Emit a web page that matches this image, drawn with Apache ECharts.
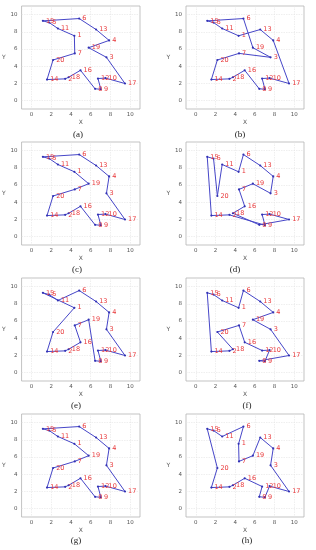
<!DOCTYPE html>
<html>
<head>
<meta charset="utf-8">
<script src="https://cdn.jsdelivr.net/npm/echarts@6/dist/echarts.min.js"></script>
<style>
html,body{margin:0;padding:0;background:#fff;}
#c{width:316px;height:550px;}
</style>
</head>
<body>
<div id="c"></div>
<script>
// City coordinates (id -> x, y)
var cityIds = [1,2,3,4,5,6,7,8,9,10,11,12,13,14,15,16,17,18,19,20];
var cityX   = [4.35,3.42,7.60,7.87,1.80,4.84,4.39,6.45,7.03,7.50,2.68,6.74,6.55,1.58,1.16,4.97,9.48,3.77,5.80,2.19];
var cityY   = [7.53,2.51,5.02,6.99,9.07,9.54,5.48,1.35,1.31,2.60,8.38,2.55,8.26,2.43,9.27,3.51,1.97,2.70,6.14,4.71];

// Tour of each panel (city ids, closed back to the first)
var routeA = [15,6,13,4,19,3,17,10,12,9,8,16,18,2,14,20,7,1,11,5];
var routeB = [15,6,19,3,7,20,14,2,18,16,8,9,12,10,17,4,13,1,11,5];
var routeC = [15,6,13,4,3,17,10,12,9,8,16,18,2,14,20,7,19,1,11,5];
var routeD = [14,2,9,12,10,17,8,18,16,7,19,3,4,13,6,1,11,20,5,15];
var routeE = [6,11,5,15,1,20,14,2,18,16,7,19,8,9,12,10,17,3,4,13];
var routeF = [15,14,2,18,20,7,16,12,10,9,8,17,3,19,4,13,6,1,11,5];
var routeG = [15,6,13,4,3,17,10,12,9,8,16,18,2,14,20,7,19,1,11,5];
var routeH = [15,5,11,6,1,7,19,13,4,3,17,10,9,8,12,16,18,2,14,20];

var captions = ['(a)','(b)','(c)','(d)','(e)','(f)','(g)','(h)'];
var tickValues = [0,2,4,6,8,10];

var routes = [routeA,routeB,routeC,routeD,routeE,routeF,routeG,routeH];

// layout
var colLeft = [17, 186];
var colWidth = [123, 118];
var rowTop = [6, 142, 278, 414];
var plotH = 103;
var capPos = [[78,135],[240,135],[77,270],[235,270],[76,406],[247,406],[76,541],[247,541]];
var labelColor = '#e8383a';

var grids = [], xAxes = [], yAxes = [], series = [], graphics = [];
routes.forEach(function(route, i){
  var col = i % 2, row = Math.floor(i/2);
  grids.push({left: colLeft[col], top: rowTop[row], width: colWidth[col], height: plotH,
    show: true, backgroundColor: '#ffffff', borderColor: '#b4b4b4', borderWidth: 0.8});
  xAxes.push({gridIndex: i, type: 'value', min: -1, max: 11,
    name: 'X', nameLocation: 'middle', nameGap: 10,
    nameTextStyle: {fontSize: 6, color: '#555', fontFamily: 'DejaVu Sans'},
    axisLine: {show: false},
    axisTick: {show: false, customValues: tickValues},
    axisLabel: {customValues: tickValues, fontSize: 5.5, color: '#555', margin: 3, fontFamily: 'DejaVu Sans'},
    splitLine: {show: true, lineStyle: {color: '#e4e4e4', width: 0.6, type: [1.5,1]}}
  });
  yAxes.push({gridIndex: i, type: 'value', min: -1, max: 11,
    name: 'Y', nameLocation: 'middle', nameGap: 12, nameRotate: 0,
    nameTextStyle: {fontSize: 6, color: '#555', fontFamily: 'DejaVu Sans'},
    axisLine: {show: false},
    axisTick: {show: false, customValues: tickValues},
    axisLabel: {customValues: tickValues, fontSize: 5.5, color: '#555', margin: 4, fontFamily: 'DejaVu Sans'},
    splitLine: {show: true, lineStyle: {color: '#e4e4e4', width: 0.6, type: [1.5,1]}}
  });
  var lineData = route.concat([route[0]]).map(function(id){
    var idx = cityIds.indexOf(id);
    return [cityX[idx], cityY[idx]];
  });
  var pointData = route.map(function(id){
    var idx = cityIds.indexOf(id);
    return {value: [cityX[idx], cityY[idx]], name: String(id)};
  });
  series.push({type: 'line', xAxisIndex: i, yAxisIndex: i, data: lineData,
    showSymbol: false, symbol: 'none',
    lineStyle: {color: '#4646c8', width: 1},
    emphasis: {disabled: true}, animation: false, silent: true, z: 2});
  series.push({type: 'scatter', xAxisIndex: i, yAxisIndex: i, data: pointData,
    symbol: 'circle', symbolSize: 2.2,
    itemStyle: {color: '#3232b4', opacity: 1},
    label: {show: true, position: 'right', distance: 2, offset: [0,-1.5],
      formatter: function(p){ return p.name; },
      color: labelColor, opacity: 1, textBorderWidth: 0, fontSize: 6.5, fontFamily: 'DejaVu Sans'},
    labelLayout: {hideOverlap: false},
    emphasis: {disabled: true}, animation: false, silent: true, z: 3});
  graphics.push({type: 'text', x: capPos[i][0], y: capPos[i][1],
    style: {text: captions[i], fontSize: 9, fontFamily: 'Liberation Serif', fill: '#222',
      textAlign: 'center', textVerticalAlign: 'middle'}});
});

var chart = echarts.init(document.getElementById('c'), null, {renderer: 'canvas'});
chart.setOption({
  animation: false,
  backgroundColor: '#ffffff',
  grid: grids, xAxis: xAxes, yAxis: yAxes, series: series, graphic: graphics
});
</script>
</body>
</html>
